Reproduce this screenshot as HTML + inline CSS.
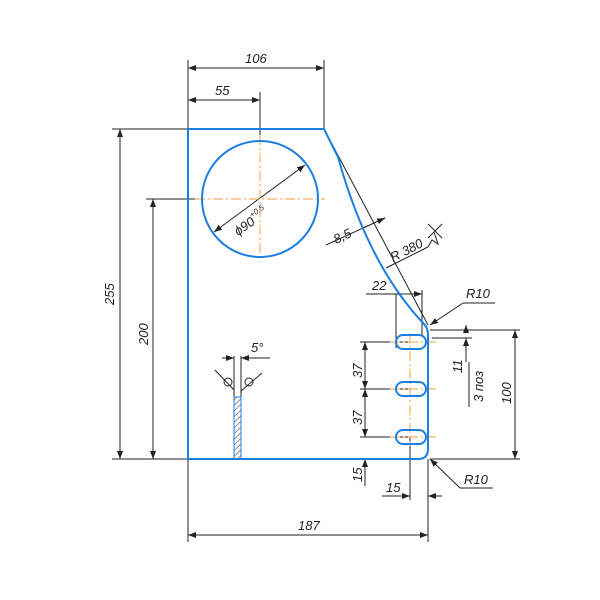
<!DOCTYPE html>
<html><head><meta charset="utf-8"><style>body{margin:0;background:#fff}svg{display:block}text{font-family:"Liberation Sans",sans-serif;font-style:italic;font-size:13px;fill:#222}</style></head><body>
<svg width="600" height="600" viewBox="0 0 600 600" xmlns="http://www.w3.org/2000/svg">
<defs><marker id="a" markerWidth="8" markerHeight="6" refX="8" refY="3" orient="auto-start-reverse" markerUnits="userSpaceOnUse"><path d="M0,0 L8,3 L0,6z" fill="#222"/></marker>
<pattern id="h" width="4" height="4" patternUnits="userSpaceOnUse" patternTransform="rotate(45)"><line x1="0" y1="0" x2="0" y2="4" stroke="#333" stroke-width="1"/></pattern></defs>
<g stroke="#222" stroke-width="1" fill="none">
<line x1="188" y1="60" x2="188" y2="129"/><line x1="324" y1="60" x2="324" y2="129"/><line x1="260" y1="92" x2="260" y2="141"/>
<line x1="188" y1="459" x2="188" y2="542"/><line x1="428" y1="459" x2="428" y2="542"/>
<line x1="112" y1="129" x2="188" y2="129"/><line x1="112" y1="459" x2="188" y2="459"/><line x1="146" y1="199" x2="202" y2="199"/>
<line x1="188" y1="68" x2="324" y2="68" marker-start="url(#a)" marker-end="url(#a)"/>
<line x1="188" y1="100" x2="260" y2="100" marker-start="url(#a)" marker-end="url(#a)"/>
<line x1="120" y1="129" x2="120" y2="459" marker-start="url(#a)" marker-end="url(#a)"/>
<line x1="153" y1="199" x2="153" y2="459" marker-start="url(#a)" marker-end="url(#a)"/>
<line x1="188" y1="535" x2="428" y2="535" marker-start="url(#a)" marker-end="url(#a)"/>
<line x1="214" y1="232" x2="305" y2="165" marker-start="url(#a)" marker-end="url(#a)"/>
<line x1="324" y1="129" x2="428" y2="325"/>
<line x1="326" y1="245" x2="385" y2="218" marker-end="url(#a)"/><line x1="385" y1="218" x2="363" y2="228"/>
<line x1="386" y1="268" x2="428" y2="247"/><polyline points="428,247 432,240 438,244 434,232"/><line x1="428" y1="224" x2="442" y2="238"/><line x1="442" y1="224" x2="428" y2="238"/>
<line x1="366" y1="294" x2="422" y2="294" marker-end="url(#a)"/><line x1="396" y1="294" x2="396" y2="348"/><line x1="422" y1="290" x2="422" y2="336"/>
<line x1="495" y1="303" x2="463" y2="303"/><line x1="463" y1="303" x2="430" y2="325" marker-end="url(#a)"/>
<line x1="493" y1="488" x2="460" y2="488"/><line x1="460" y1="488" x2="430" y2="459" marker-end="url(#a)"/>
<line x1="430" y1="330" x2="520" y2="330"/><line x1="430" y1="459" x2="520" y2="459"/><line x1="432" y1="338" x2="472" y2="338"/>
<line x1="515" y1="330" x2="515" y2="459" marker-start="url(#a)" marker-end="url(#a)"/>
<line x1="466" y1="325" x2="466" y2="330" marker-start="url(#a)"/><line x1="466" y1="338" x2="466" y2="362" marker-start="url(#a)"/>
<line x1="469" y1="362" x2="469" y2="407"/>
<line x1="360" y1="342" x2="410" y2="342"/><line x1="360" y1="389" x2="410" y2="389"/><line x1="360" y1="437" x2="410" y2="437"/>
<line x1="365" y1="342" x2="365" y2="389" marker-start="url(#a)" marker-end="url(#a)"/>
<line x1="365" y1="389" x2="365" y2="437" marker-start="url(#a)" marker-end="url(#a)"/>
<line x1="365" y1="459" x2="365" y2="486" marker-start="url(#a)"/>
<line x1="410" y1="437" x2="410" y2="500"/>
<line x1="382" y1="496" x2="410" y2="496" marker-end="url(#a)"/><line x1="428" y1="496" x2="442" y2="496" marker-start="url(#a)"/>
<line x1="234" y1="356" x2="234" y2="397"/><line x1="241" y1="356" x2="241" y2="397"/>
<line x1="222" y1="358" x2="234" y2="358" marker-end="url(#a)"/><line x1="270" y1="358" x2="241" y2="358" marker-end="url(#a)"/>
<line x1="215" y1="370" x2="234" y2="390"/><line x1="262" y1="373" x2="241" y2="391"/>
<circle cx="228" cy="382" r="4"/><circle cx="249" cy="382" r="4"/>
</g>
<rect x="234" y="397" width="7" height="62" fill="url(#h)" stroke="#1a7fe0"/>
<g stroke="#f0a040" stroke-width="1" stroke-dasharray="10,3,2,3" fill="none">
<line x1="195" y1="199" x2="325" y2="199"/><line x1="260" y1="135" x2="260" y2="262"/>
<line x1="410" y1="333" x2="410" y2="446"/>
<line x1="390" y1="342" x2="436" y2="342"/><line x1="390" y1="389" x2="436" y2="389"/><line x1="390" y1="437" x2="436" y2="437"/>
</g>
<g stroke="#1a7fe0" stroke-width="2" fill="none">
<path d="M188,129 H324 L338,157 Q368,265 424,324 Q428,328 428,335 V449 Q428,459 418,459 H188 Z"/>
<circle cx="260" cy="199" r="58"/>
<rect x="396" y="335" width="30" height="14" rx="7"/><rect x="396" y="382" width="30" height="14" rx="7"/><rect x="396" y="430" width="30" height="14" rx="7"/>
</g>
<text x="245" y="63">106</text><text x="215" y="95">55</text>
<text x="0" y="0" transform="translate(114,305) rotate(-90)">255</text>
<text x="0" y="0" transform="translate(148,345) rotate(-90)">200</text>
<text x="298" y="530">187</text>
<text x="0" y="0" transform="translate(238,236) rotate(-35)">ϕ90<tspan font-size="8" dy="-7">+0.5</tspan></text>
<text x="0" y="0" transform="translate(336,244) rotate(-25)">8,5</text>
<text x="0" y="0" transform="translate(393,262) rotate(-27)">R 380</text>
<text x="372" y="290">22</text><text x="466" y="298">R10</text><text x="464" y="484">R10</text>
<text x="0" y="0" transform="translate(362,378) rotate(-90)">37</text>
<text x="0" y="0" transform="translate(362,425) rotate(-90)">37</text>
<text x="0" y="0" transform="translate(362,482) rotate(-90)">15</text>
<text x="386" y="492">15</text><text x="251" y="352">5°</text>
<text x="0" y="0" transform="translate(462,373) rotate(-90)">11</text>
<text x="0" y="0" transform="translate(483,402) rotate(-90)">3 поз</text>
<text x="0" y="0" transform="translate(511,404) rotate(-90)">100</text>
</svg>
</body></html>
